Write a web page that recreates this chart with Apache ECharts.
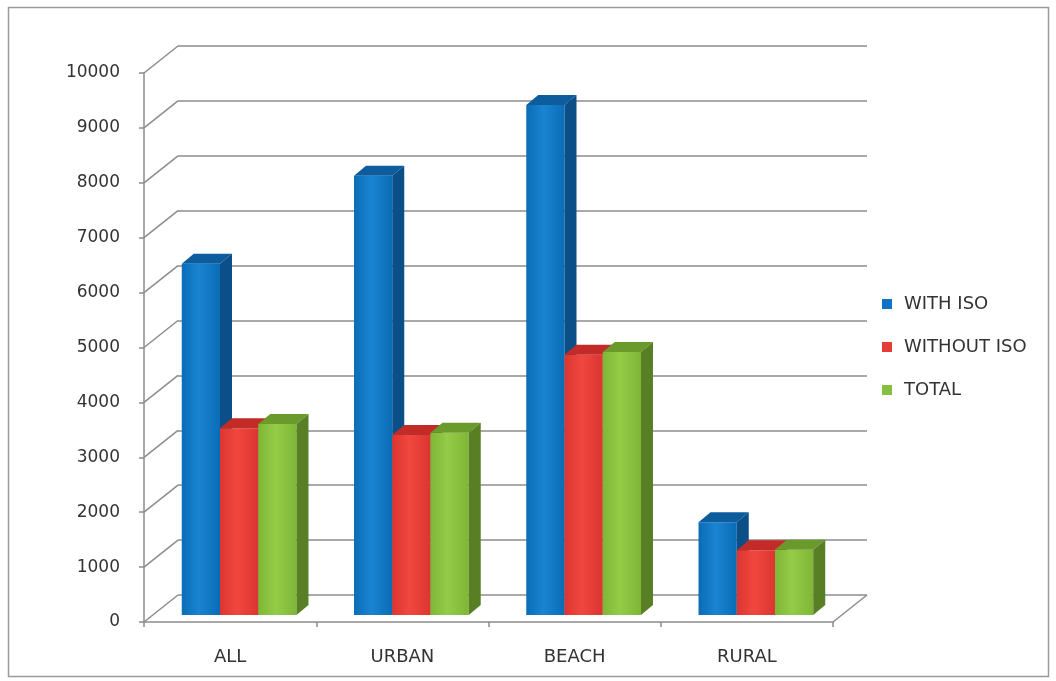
<!DOCTYPE html>
<html>
<head>
<meta charset="utf-8">
<script src="https://cdn.jsdelivr.net/npm/echarts@6/dist/echarts.min.js"></script>
<style>html,body{margin:0;padding:0;background:#fff;}#c{width:1056px;height:681px;}</style>
</head>
<body>
<div id="c"></div>
<script>
const categories = ['ALL', 'URBAN', 'BEACH', 'RURAL'];
const withIso = [6400, 8000, 9290, 1690];
const withoutIso = [3400, 3280, 4740, 1180];
const total = [3480, 3320, 4790, 1190];
const yTicks = [0, 1000, 2000, 3000, 4000, 5000, 6000, 7000, 8000, 9000, 10000];
const seriesNames = ['WITH ISO', 'WITHOUT ISO', 'TOTAL'];

const WALL_DX = 34, WALL_DY = 27;
const FRONT_DX = 9, FRONT_DY = 7;
const BAR_DX = 12, BAR_DY = 10;
const GRID_COLOR = '#8c8c8c';
const FONT = 'DejaVu Sans';
const TEXT_COLOR = '#333333';

const palettes = [
  {edge: '#0a6cb6', mid: '#1a84d2', top: '#0d5c9e', side: '#0a4f88', legend: '#0f74c4'},
  {edge: '#dc3530', mid: '#f0483f', top: '#c22b27', side: '#a3221e', legend: '#e63c36'},
  {edge: '#7fb636', mid: '#94cc48', top: '#6a992c', side: '#587f24', legend: '#86bf3d'}
];

function barRenderer(idx) {
  const pal = palettes[idx];
  return function (params, api) {
    const cat = api.value(0), v = api.value(1);
    const base = api.coord([cat, 0]);
    const top = api.coord([cat, v]);
    const band = api.size([1, 0])[0];
    const bw = band * 0.222;
    const x0 = base[0] + FRONT_DX + (idx - 1.5) * bw;
    const x1 = x0 + bw;
    const yb = base[1] - FRONT_DY;
    const yt = top[1] - FRONT_DY;
    return {
      type: 'group',
      children: [
        {type: 'rect', shape: {x: x0, y: yt, width: bw, height: yb - yt},
          style: {fill: new echarts.graphic.LinearGradient(0, 0, 1, 0, [
            {offset: 0, color: pal.edge}, {offset: 0.45, color: pal.mid}, {offset: 1, color: pal.edge}])}},
        {type: 'polygon', shape: {points: [[x0, yt], [x0 + BAR_DX, yt - BAR_DY], [x1 + BAR_DX, yt - BAR_DY], [x1, yt]]},
          style: {fill: pal.top}},
        {type: 'polygon', shape: {points: [[x1, yt], [x1 + BAR_DX, yt - BAR_DY], [x1 + BAR_DX, yb - BAR_DY], [x1, yb]]},
          style: {fill: pal.side}}
      ]
    };
  };
}

function wallRenderer(params, api) {
  const v = api.value(0);
  const cs = params.coordSys;
  const p = api.coord([0, v]);
  const children = [
    {type: 'line', shape: {x1: cs.x, y1: p[1], x2: cs.x + WALL_DX, y2: p[1] - WALL_DY},
      style: {stroke: GRID_COLOR, lineWidth: 1.5}}
  ];
  if (v === 0) {
    children.push({type: 'line', shape: {x1: cs.x + cs.width, y1: p[1], x2: cs.x + cs.width + WALL_DX, y2: p[1] - WALL_DY},
      style: {stroke: GRID_COLOR, lineWidth: 1.5}});
  }
  return {type: 'group', children: children};
}

const chart = echarts.init(document.getElementById('c'), null, {renderer: 'canvas'});
const seriesData = [withIso, withoutIso, total];

chart.setOption({
  backgroundColor: '#ffffff',
  animation: false,
  graphic: [{
    type: 'rect', shape: {x: 8.5, y: 7.5, width: 1040, height: 669},
    style: {fill: 'none', stroke: '#9a9a9a', lineWidth: 1.5}, z: 100
  }],
  legend: {
    data: seriesNames,
    orient: 'vertical',
    left: 877,
    top: 290,
    itemWidth: 10,
    itemHeight: 10,
    itemGap: 25,
    icon: 'rect',
    textStyle: {fontFamily: FONT, fontSize: 18, color: TEXT_COLOR, padding: [0, 0, 0, 7]}
  },
  grid: [
    {left: 144, top: 73, width: 689, height: 549},
    {left: 144 + WALL_DX, top: 73 - WALL_DY, width: 689, height: 549}
  ],
  xAxis: [
    {type: 'category', data: categories, gridIndex: 0,
      axisLine: {show: true, lineStyle: {color: GRID_COLOR, width: 1.5}},
      axisTick: {show: true, length: 5, lineStyle: {color: GRID_COLOR, width: 1.5}},
      axisLabel: {margin: 26, fontFamily: FONT, fontSize: 18, color: TEXT_COLOR},
      splitLine: {show: false}},
    {type: 'category', data: categories, gridIndex: 1, show: false}
  ],
  yAxis: [
    {type: 'value', min: 0, max: 10000, interval: 1000, gridIndex: 0,
      axisLine: {show: true, lineStyle: {color: GRID_COLOR, width: 1.5}},
      axisTick: {show: true, length: 5, lineStyle: {color: GRID_COLOR, width: 1.5}},
      axisLabel: {margin: 24, fontFamily: FONT, fontSize: 17, color: TEXT_COLOR,
        formatter: function (v) { return String(v); }},
      splitLine: {show: false}},
    {type: 'value', min: 0, max: 10000, interval: 1000, gridIndex: 1,
      axisLine: {show: false}, axisTick: {show: false}, axisLabel: {show: false},
      splitLine: {show: true, lineStyle: {color: GRID_COLOR, width: 1.5}}}
  ],
  series: [
    {type: 'custom', name: 'wall', xAxisIndex: 0, yAxisIndex: 0, silent: true,
      renderItem: wallRenderer, data: yTicks.map(v => [v]), encode: {y: 0}}
  ].concat(seriesNames.map((name, i) => ({
    type: 'custom', name: name, xAxisIndex: 0, yAxisIndex: 0,
    itemStyle: {color: palettes[i].legend},
    renderItem: barRenderer(i),
    encode: {x: 0, y: 1},
    data: categories.map((c, k) => [k, seriesData[i][k]])
  })))
});
</script>
</body>
</html>
